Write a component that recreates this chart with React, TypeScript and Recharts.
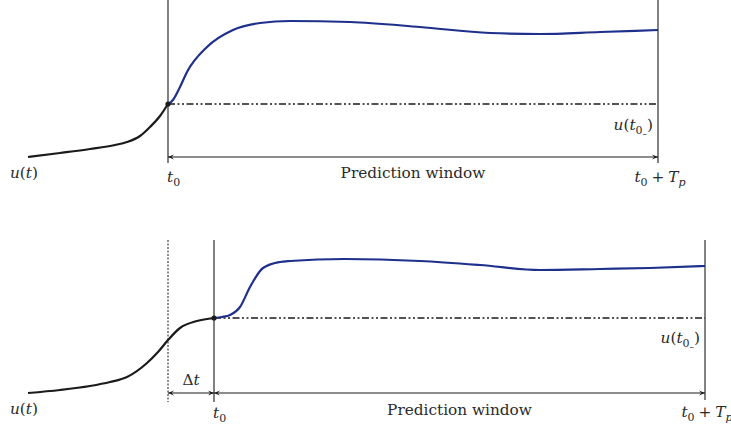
import { LineChart, Line, XAxis, YAxis, ReferenceLine, ReferenceDot } from 'recharts';

// time is measured from t0 (t0 = 0); u is measured from the start of the history curve

// top panel: forecast starts right at t0
const topHistT = [-1.4, -1.08, -0.78, -0.53, -0.41, -0.28, -0.18, -0.08, 0];
const topHistU = [0, 0.04, 0.08, 0.12, 0.15, 0.21, 0.3, 0.41, 0.53];
const topPredT = [0, 0.05, 0.12, 0.19, 0.39, 0.65, 0.92, 1.22, 1.82, 2.52, 3.22, 3.72, 4.32, 4.9];
const topPredU = [0.53, 0.57, 0.7, 0.85, 1.1, 1.27, 1.34, 1.36, 1.35, 1.3, 1.24, 1.23, 1.25, 1.27];
const topTp = 4.9;

// bottom panel: forecast issued after a delay Δt
const botHistT = [-1.86, -1.54, -1.24, -1.04, -0.87, -0.67, -0.56, -0.46, -0.34, -0.17, 0];
const botHistU = [0, 0.03, 0.07, 0.11, 0.16, 0.3, 0.41, 0.53, 0.65, 0.72, 0.75];
const botPredT = [0, 0.08, 0.16, 0.26, 0.36, 0.49, 0.66, 0.76, 1.31, 2.06, 2.66, 3.26, 3.86, 4.36, 4.91];
const botPredU = [0.75, 0.76, 0.78, 0.86, 1.06, 1.25, 1.31, 1.32, 1.34, 1.32, 1.28, 1.23, 1.24, 1.25, 1.27];
const botDelay = 0.46;
const botTp = 4.91;

const INK = '#1b1b1b';
const BLUE = '#1f2f8c';
const FONT = '"DejaVu Serif", serif';
const FS = 15.3;
const SUB = 11;

const toRows = (ts: number[], us: number[]) => ts.map((t, i) => ({ t, u: us[i] }));

const Arrow = (p: any) => {
    const { x1, y1, x2, y2 } = p;
    const h = 6;
    const w = 2.6;
    return (
        <g>
            <line x1={x1} y1={y1} x2={x2} y2={y2} stroke={INK} strokeWidth={1} />
            <path d={`M${x1} ${y1} L${x1 + h} ${y1 - w} L${x1 + h * 0.6} ${y1} L${x1 + h} ${y1 + w} Z`} fill={INK} />
            <path d={`M${x2} ${y2} L${x2 - h} ${y2 - w} L${x2 - h * 0.6} ${y2} L${x2 - h} ${y2 + w} Z`} fill={INK} />
        </g>
    );
};

// text placed relative to a data point
const note = (dx: number, dy: number, anchor: 'start' | 'middle' | 'end', body: React.ReactNode) =>
    (p: any) => (
        <text
            x={p.cx + dx}
            y={p.cy + dy}
            textAnchor={anchor}
            style={{ fontFamily: FONT, fontSize: FS, fill: '#2a2a2a' }}
        >
            {body}
        </text>
    );

const uOfT = (
    <>
        <tspan fontStyle="italic">u</tspan>(<tspan fontStyle="italic">t</tspan>)
    </>
);
const tZero = (
    <>
        <tspan fontStyle="italic">t</tspan>
        <tspan dy={4} fontSize={SUB}>0</tspan>
    </>
);
const tZeroTp = (
    <>
        <tspan fontStyle="italic">t</tspan>
        <tspan dy={4} fontSize={SUB}>0</tspan>
        <tspan dy={-4} dx={4}>+</tspan>
        <tspan dx={4} fontStyle="italic">T</tspan>
        <tspan dy={4} fontSize={SUB} fontStyle="italic">p</tspan>
    </>
);
const uZeroMinus = (
    <>
        <tspan fontStyle="italic">u</tspan>(<tspan fontStyle="italic">t</tspan>
        <tspan dy={4} fontSize={SUB}>0</tspan>
        <tspan dy={3} fontSize={9}>–</tspan>
        <tspan dy={-7}>)</tspan>
    </>
);
const deltaT = (
    <>
        Δ<tspan fontStyle="italic">t</tspan>
    </>
);

function TopPanel() {
    const u0 = topHistU[topHistU.length - 1];
    return (
        <LineChart width={731} height={213} margin={{ top: 0, right: 0, bottom: 0, left: 0 }}>
            <XAxis type="number" dataKey="t" domain={[-1.68, 5.63]} hide allowDataOverflow />
            <YAxis type="number" domain={[-0.56, 1.57]} hide allowDataOverflow />
            <ReferenceLine segment={[{ x: 0, y: 1.57 }, { x: 0, y: -0.06 }]} stroke={INK} strokeWidth={1.1} />
            <ReferenceLine segment={[{ x: topTp, y: 1.57 }, { x: topTp, y: -0.06 }]} stroke={INK} strokeWidth={1.1} />
            <ReferenceLine segment={[{ x: 0, y: u0 }, { x: topTp, y: u0 }]} stroke={INK} strokeWidth={1.7} strokeDasharray="7 2.5 2 2.5 2 2.5" />
            <ReferenceLine segment={[{ x: 0, y: 0 }, { x: topTp, y: 0 }]} shape={Arrow} />
            <Line data={toRows(topHistT, topHistU)} dataKey="u" type="monotone" stroke={INK} strokeWidth={2.2} dot={false} activeDot={false} isAnimationActive={false} />
            <Line data={toRows(topPredT, topPredU)} dataKey="u" type="monotone" stroke={BLUE} strokeWidth={2.2} dot={false} activeDot={false} isAnimationActive={false} />
            <ReferenceDot x={0} y={u0} r={2.6} fill={INK} stroke="none" />
            <ReferenceDot x={topHistT[0]} y={topHistU[0]} shape={note(-18, 21, 'start', uOfT)} />
            <ReferenceDot x={0} y={0} shape={note(-1, 25, 'start', tZero)} />
            <ReferenceDot x={topTp / 2} y={0} shape={note(0, 21, 'middle', 'Prediction window')} />
            <ReferenceDot x={topTp} y={0} shape={note(2, 25, 'middle', tZeroTp)} />
            <ReferenceDot x={topTp} y={u0} shape={note(-5, 26, 'end', uZeroMinus)} />
        </LineChart>
    );
}

function BottomPanel() {
    const u0 = botHistU[botHistU.length - 1];
    return (
        <LineChart width={731} height={214} margin={{ top: 0, right: 0, bottom: 0, left: 0 }}>
            <XAxis type="number" dataKey="t" domain={[-2.14, 5.17]} hide allowDataOverflow />
            <YAxis type="number" domain={[-0.34, 1.8]} hide allowDataOverflow />
            <ReferenceLine segment={[{ x: -botDelay, y: 1.53 }, { x: -botDelay, y: -0.09 }]} stroke={INK} strokeWidth={1} strokeDasharray="2 1.5" />
            <ReferenceLine segment={[{ x: 0, y: 1.53 }, { x: 0, y: -0.09 }]} stroke={INK} strokeWidth={1.1} />
            <ReferenceLine segment={[{ x: botTp, y: 1.53 }, { x: botTp, y: -0.07 }]} stroke={INK} strokeWidth={1.1} />
            <ReferenceLine segment={[{ x: 0, y: u0 }, { x: botTp, y: u0 }]} stroke={INK} strokeWidth={1.7} strokeDasharray="7 2.5 2 2.5 2 2.5" />
            <ReferenceLine segment={[{ x: -botDelay, y: 0 }, { x: 0, y: 0 }]} shape={Arrow} />
            <ReferenceLine segment={[{ x: 0, y: 0 }, { x: botTp, y: 0 }]} shape={Arrow} />
            <Line data={toRows(botHistT, botHistU)} dataKey="u" type="monotone" stroke={INK} strokeWidth={2.2} dot={false} activeDot={false} isAnimationActive={false} />
            <Line data={toRows(botPredT, botPredU)} dataKey="u" type="monotone" stroke={BLUE} strokeWidth={2.2} dot={false} activeDot={false} isAnimationActive={false} />
            <ReferenceDot x={0} y={u0} r={2.6} fill={INK} stroke="none" />
            <ReferenceDot x={botHistT[0]} y={botHistU[0]} shape={note(-18, 21, 'start', uOfT)} />
            <ReferenceDot x={-botDelay / 2} y={0} shape={note(0, -8, 'middle', deltaT)} />
            <ReferenceDot x={0} y={0} shape={note(-1, 25, 'start', tZero)} />
            <ReferenceDot x={botTp / 2} y={0} shape={note(0, 22, 'middle', 'Prediction window')} />
            <ReferenceDot x={botTp} y={0} shape={note(2, 24, 'middle', tZeroTp)} />
            <ReferenceDot x={botTp} y={u0} shape={note(-5, 25, 'end', uZeroMinus)} />
        </LineChart>
    );
}

export default function App() {
    return (
        <div style={{ position: 'absolute', left: 0, top: 0, width: 731, height: 427, background: '#fff', overflow: 'hidden' }}>
            <TopPanel />
            <BottomPanel />
        </div>
    );
}
